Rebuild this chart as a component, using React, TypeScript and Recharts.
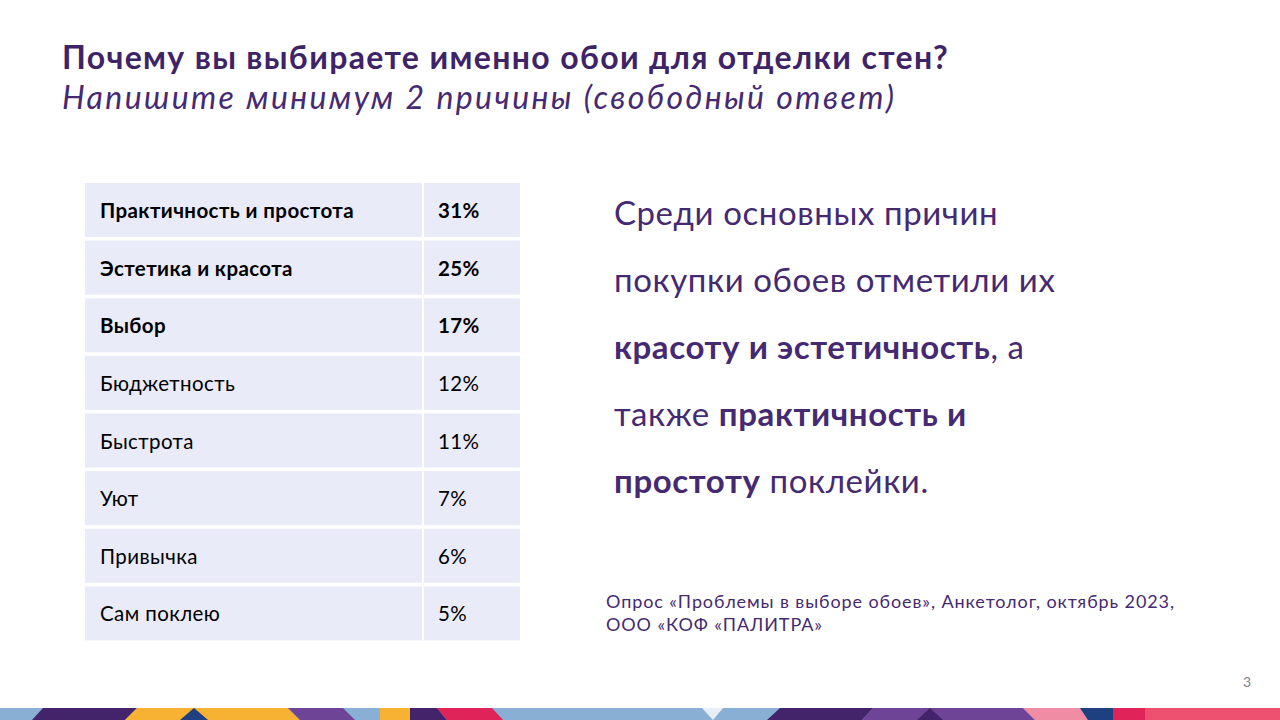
import React from "react";
import { BarChart, Bar, XAxis, YAxis, LabelList } from "recharts";

const reasons = [
  "Практичность и простота",
  "Эстетика и красота",
  "Выбор",
  "Бюджетность",
  "Быстрота",
  "Уют",
  "Привычка",
  "Сам поклею",
];
const shares = [31, 25, 17, 12, 11, 7, 6, 5];
const boldRows = 3;

const rows = reasons.map((reason, i) => ({ reason, share: shares[i] }));

const FONT = "Lato, 'Open Sans', sans-serif";
const PURPLE = "#452a72";
const CELL = "#e9ebf9";
const SPLIT = 337;

function CellBackground(props: any) {
  const { x, y, width, height } = props;
  return (
    <g>
      <rect x={x} y={y} width={width} height={height} fill={CELL} />
      <rect x={x + SPLIT} y={y} width={2} height={height} fill="#ffffff" />
    </g>
  );
}

function cellText(offset: number, fmt?: (v: any) => string) {
  return (props: any) => {
    const box = props.viewBox ?? props;
    const x = box.x ?? 0;
    const y = box.y ?? 0;
    const h = box.height ?? 0;
    const idx = props.index ?? 0;
    return (
      <text
        x={x + offset}
        y={y + h / 2}
        dominantBaseline="central"
        fontFamily={FONT}
        fontSize={20.5}
        letterSpacing={0.4}
        fontWeight={idx < boldRows ? 700 : 400}
        fill="#000000"
      >
        {fmt ? fmt(props.value) : props.value}
      </text>
    );
  };
}

function BottomStrip() {
  const y0 = 708;
  const y1 = 720;
  const quad = (tl: number, tr: number, br: number, bl: number, fill: string) => (
    <polygon points={`${tl},${y0} ${tr},${y0} ${br},${y1} ${bl},${y1}`} fill={fill} />
  );
  return (
    <svg width={1280} height={720} style={{ position: "absolute", left: 0, top: 0 }}>
      <rect x={0} y={y0} width={1280} height={12} fill="#8aafd4" />
      {quad(43, 137, 125, 32, "#43246a")}
      {quad(137, 288, 300, 125, "#f7b234")}
      <polygon points={`194,${y0} 208,${y1} 180,${y1}`} fill="#1e3f80" />
      {quad(288, 343, 355, 300, "#6e4496")}
      {quad(380, 410, 410, 380, "#f7b234")}
      {quad(410, 437, 447, 410, "#43246a")}
      {quad(437, 492, 503, 447, "#e0245a")}
      <polygon points={`702,${y0} 723,${y0} 713,${y1}`} fill="#e6eef8" />
      {quad(780, 873, 862, 767, "#43246a")}
      {quad(873, 1023, 1035, 862, "#6e4496")}
      <polygon points={`930,${y0} 943,${y1} 917,${y1}`} fill="#43246a" />
      {quad(1023, 1080, 1088, 1035, "#f08ca4")}
      {quad(1080, 1113, 1113, 1088, "#1e3f80")}
      {quad(1113, 1145, 1145, 1113, "#e0245a")}
      {quad(1145, 1280, 1280, 1145, "#ee5070")}
    </svg>
  );
}

export default function App() {
  return (
    <div
      style={{
        position: "absolute",
        left: 0,
        top: 0,
        width: 1280,
        height: 720,
        background: "#ffffff",
        overflow: "hidden",
        fontFamily: FONT,
      }}
    >
      <BottomStrip />
      <div style={{ position: "absolute", left: 62, top: 38, color: "#3e2467", fontSize: 32, fontWeight: 700, letterSpacing: 1.35, lineHeight: "38px", whiteSpace: "nowrap" }}>
        Почему вы выбираете именно обои для отделки стен?
      </div>
      <div style={{ position: "absolute", left: 62, top: 78, color: PURPLE, fontSize: 32, fontStyle: "italic", letterSpacing: 2.4, lineHeight: "38px", whiteSpace: "nowrap" }}>
        Напишите минимум 2 причины (свободный ответ)
      </div>

      <div style={{ position: "absolute", left: 85, top: 181 }}>
        <BarChart
          width={435}
          height={461}
          data={rows}
          layout="vertical"
          margin={{ top: 0, right: 0, bottom: 0, left: 0 }}
          barCategoryGap={2}
        >
          <XAxis type="number" domain={[0, 100]} hide />
          <YAxis type="category" dataKey="reason" hide />
          <Bar
            dataKey="share"
            fill="none"
            isAnimationActive={false}
            background={(p: any) => <CellBackground key={p.index} {...p} />}
          >
            <LabelList dataKey="reason" content={cellText(15)} />
            <LabelList dataKey="share" content={cellText(353, (v) => `${v}%`)} />
          </Bar>
        </BarChart>
      </div>

      <div style={{ position: "absolute", left: 614, top: 179, color: PURPLE, fontSize: 33, letterSpacing: 0.6, lineHeight: "67px", width: 600, whiteSpace: "nowrap" }}>
        Среди основных причин
        <br />
        покупки обоев отметили их
        <br />
        <b>красоту и эстетичность</b>, а
        <br />
        также <b>практичность и</b>
        <br />
        <b>простоту</b> поклейки.
      </div>

      <div style={{ position: "absolute", left: 606, top: 590, color: PURPLE, fontSize: 18, letterSpacing: 0.9, lineHeight: "23px", whiteSpace: "nowrap" }}>
        Опрос «Проблемы в выборе обоев», Анкетолог, октябрь 2023,
        <br />
        ООО «КОФ «ПАЛИТРА»
      </div>

      <div style={{ position: "absolute", left: 1243, top: 673, color: "#7f7f7f", fontSize: 14 }}>3</div>
    </div>
  );
}
